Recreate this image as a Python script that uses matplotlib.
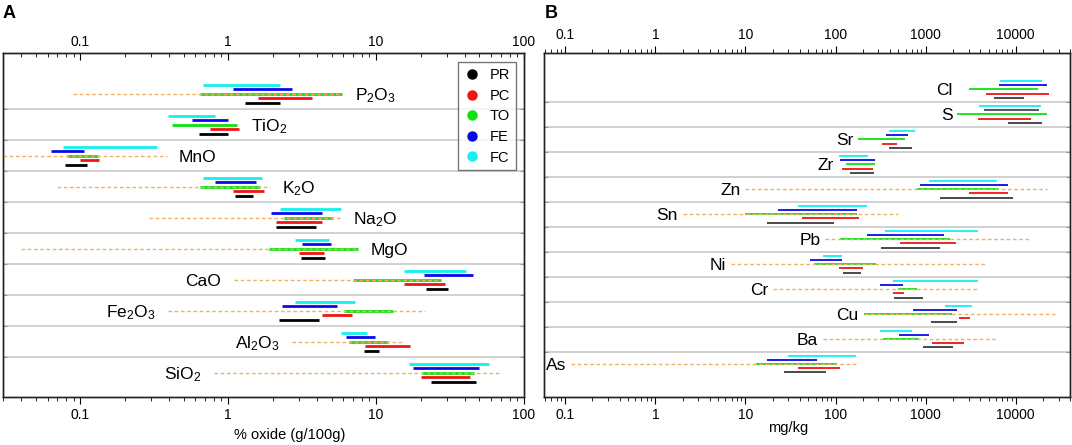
import numpy as np
import matplotlib
matplotlib.use('Agg')
import matplotlib.pyplot as plt
from matplotlib.ticker import FuncFormatter, NullFormatter
from matplotlib.lines import Line2D

plt.rcParams['font.family'] = ['Liberation Sans', 'DejaVu Sans']
plt.rcParams['mathtext.default'] = 'regular'

# series order in legend / colours
series = ['PR', 'PC', 'TO', 'FE', 'FC']
colors = {'PR': '#000000', 'PC': '#f01414', 'TO': '#10e010', 'FE': '#0a0ae8', 'FC': '#14f0f0'}
offsets = {'FC': 2, 'FE': 1, 'TO': 0, 'PC': -1, 'PR': -2}

# panel A: % oxide (g/100g), ranges (low, high)
oxides = ['P$_2$O$_3$', 'TiO$_2$', 'MnO', 'K$_2$O', 'Na$_2$O', 'MgO',
          'CaO', 'Fe$_2$O$_3$', 'Al$_2$O$_3$', 'SiO$_2$']
ox_PR = [(1.29, 2.25), (0.634, 1.0), (0.0785, 0.111), (1.107, 1.465), (2.11, 3.95),
         (3.1, 4.5), (21.7, 30.7), (2.19, 4.12), (8.24, 10.5), (23.6, 47.4)]
ox_PC = [(1.58, 3.7), (0.757, 1.18), (0.1, 0.134), (1.08, 1.74), (2.11, 4.3),
         (3.02, 4.45), (15.5, 29.3), (4.28, 6.83), (8.47, 17.0), (20.0, 43.0)]
ox_TO = [(0.644, 5.9), (0.415, 1.15), (0.0815, 0.131), (0.644, 1.65), (2.37, 5.11),
         (1.89, 7.52), (7.02, 27.3), (6.07, 13.1), (6.58, 12.1), (20.3, 46.2)]
ox_FE = [(1.08, 2.68), (0.572, 1.0), (0.0634, 0.1055), (0.82, 1.545), (1.945, 4.28),
         (3.15, 4.95), (21.1, 45.4), (2.31, 5.45), (6.3, 9.84), (17.8, 50.0)]
ox_FC = [(0.68, 2.25), (0.389, 0.82), (0.0764, 0.329), (0.68, 1.69), (2.25, 5.75),
         (2.83, 4.77), (15.5, 40.8), (2.83, 7.2), (5.75, 8.7), (16.6, 57.8)]
ox_ref = [(0.089, 5.9), None, (0.03, 0.383), (0.0698, 1.91), (0.292, 5.75),
          (0.0395, 7.52), (1.09, 27.3), (0.393, 21.4), (2.72, 15.1), (0.80, 67.3)]
ox_side = ['r', 'r', 'r', 'r', 'r', 'r', 'l', 'l', 'l', 'l']

# panel B: mg/kg
elems = ['Cl', 'S', 'Sr', 'Zr', 'Zn', 'Sn', 'Pb', 'Ni', 'Cr', 'Cu', 'Ba', 'As']
el_PR = [(5760, 12500), (8220, 19500), (393, 712), (146, 268), (1450, 9400), (17.3, 96),
         (320, 1450), (122, 191), (448, 930), (1160, 2220), (946, 2010), (26.5, 77.6)]
el_PC = [(4700, 23300), (3860, 14700), (325, 486), (118, 263), (3010, 8220), (42.4, 184),
         (521, 2160), (108, 201), (436, 570), (2370, 3090), (1180, 2700), (38.5, 113)]
el_TO = [(3010, 17800), (2260, 22500), (179, 596), (131, 273), (813, 6470), (10, 171),
         (113, 1890), (57.4, 280), (499, 800), (205, 1980), (334, 851), (13.0, 105)]
el_FE = [(6470, 22300), (4490, 18300), (359, 640), (113, 275), (866, 8220), (23.2, 171),
         (224, 1585), (51.6, 117), (311, 560), (725, 2260), (508, 1090), (17.3, 61.6)]
el_FC = [(6700, 19700), (3960, 19100), (393, 764), (108, 228), (1090, 6180), (38.5, 224),
         (356, 3860), (72.3, 117), (436, 3860), (1630, 3290), (311, 712), (29.4, 168)]
el_ref = [None, None, None, None, (10, 22500), (2.0, 490), (76.9, 14000), (6.97, 4610),
          (20.3, 3690), (205, 27300), (72.3, 5860), (0.116, 179)]
el_side = ['l'] * 12

# a few labels sit further from their bars
extra_gap = {'Cl': 8}


def fmt(v, pos):
    return f'{v:g}'


def style_x(axis, direction):
    axis.set_major_formatter(FuncFormatter(fmt))
    axis.set_minor_formatter(NullFormatter())


def draw_panel(ax, names, ranges, ref, side, step, lw, gap, xlim, ylim, black, top_dir):
    n = len(names)
    ys = np.arange(n)[::-1].astype(float)
    for sep in ys[1:] + 0.5:
        ax.axhline(sep, color='#cacaca', lw=1.2, zorder=1)
    for key in ['FC', 'FE', 'TO', 'PC', 'PR']:
        lo = [r[0] for r in ranges[key]]
        hi = [r[1] for r in ranges[key]]
        c = black if key == 'PR' else colors[key]
        ax.hlines(ys + offsets[key] * step, lo, hi, color=c, lw=lw, zorder=3)
    for y, r in zip(ys, ref):
        if r is not None:
            ax.plot(r, [y, y], color='#eeb066', lw=1.0, ls=(0, (2.6, 1.9)), zorder=4)
    for i, (name, y) in enumerate(zip(names, ys)):
        vals = [v for key in series for v in ranges[key][i]]
        if ref[i] is not None:
            vals += list(ref[i])
        g = gap + extra_gap.get(name, 0)
        if side[i] == 'r':
            ax.annotate(name, xy=(max(vals), y), xytext=(g, -1), textcoords='offset points',
                        ha='left', va='center', fontsize=12.5)
        else:
            ax.annotate(name, xy=(min(vals), y), xytext=(-g, -1), textcoords='offset points',
                        ha='right', va='center', fontsize=12.5)
    ax.set_xscale('log')
    ax.set_xlim(*xlim)
    ax.set_ylim(*ylim)
    ax.set_yticks(ys[1:] + 0.5)
    ax.tick_params(axis='y', which='both', left=True, right=True, labelleft=False,
                   direction='in', length=3, color='#999999')
    ax.xaxis.set_major_formatter(FuncFormatter(fmt))
    ax.xaxis.set_minor_formatter(NullFormatter())
    ax.tick_params(axis='x', which='major', direction='out', length=5, labelsize=10, pad=3)
    ax.tick_params(axis='x', which='minor', direction='out', length=3)

    # top axis with its own tick direction
    top = ax.twiny()
    top.set_xscale('log')
    top.set_xlim(*xlim)
    top.xaxis.set_major_formatter(FuncFormatter(fmt))
    top.xaxis.set_minor_formatter(NullFormatter())
    top.tick_params(axis='x', which='major', direction=top_dir, length=5, labelsize=10, pad=3)
    top.tick_params(axis='x', which='minor', direction=top_dir, length=3)
    for sp in list(ax.spines.values()) + list(top.spines.values()):
        sp.set_linewidth(1.0)
        sp.set_color('#222222')
    return top


fig = plt.figure(figsize=(10.72, 4.45), dpi=100)
axA = fig.add_axes([0.0028, 0.1072, 0.486, 0.7726])
axB = fig.add_axes([0.5075, 0.1072, 0.4905, 0.7726])

ox_ranges = {'PR': ox_PR, 'PC': ox_PC, 'TO': ox_TO, 'FE': ox_FE, 'FC': ox_FC}
el_ranges = {'PR': el_PR, 'PC': el_PC, 'TO': el_TO, 'FE': el_FE, 'FC': el_FC}

draw_panel(axA, oxides, ox_ranges, ox_ref, ox_side, 0.142, 2.0, 9,
           (0.03, 100), (-0.79, 10.30), '#000000', 'in')
draw_panel(axB, elems, el_ranges, el_ref, el_side, 0.167, 1.3, 3.5,
           (0.058, 40000), (-1.33, 12.44), '#3a3a3a', 'out')

# FE for S is drawn grey in the original
axB.hlines(10 + offsets['FE'] * 0.167, el_FE[1][0], el_FE[1][1], color='#606060', lw=1.3, zorder=3.5)

axA.set_xlabel('% oxide (g/100g)', fontsize=10.5)
axA.xaxis.set_label_coords(0.55, -0.088)
axB.set_xlabel('mg/kg', fontsize=10.5)
axB.xaxis.set_label_coords(0.464, -0.068)

handles = [Line2D([], [], ls='none', marker='o', ms=6.5, color=colors[s]) for s in series]
leg = axA.legend(handles, series, loc='upper right', bbox_to_anchor=(0.985, 0.974),
                 borderaxespad=0, fontsize=10.5, frameon=True, fancybox=False,
                 edgecolor='#555555', labelspacing=0.45, handletextpad=0.6,
                 handlelength=1.2, borderpad=0.4)
leg.get_frame().set_linewidth(1.0)
leg.set_zorder(10)

fig.text(9 / 1072, 1 - 13 / 445, 'A', fontsize=13, fontweight='bold', ha='center', va='center')
fig.text(551 / 1072, 1 - 13 / 445, 'B', fontsize=13, fontweight='bold', ha='center', va='center')

fig.savefig('out.png', dpi=100)
